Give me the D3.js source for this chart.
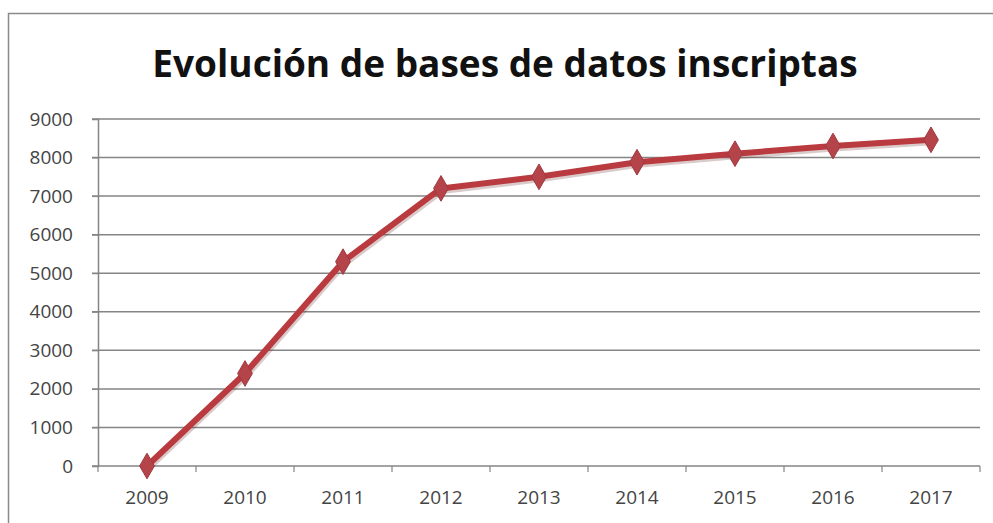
<!DOCTYPE html>
<html><head><meta charset="utf-8">
<script src="https://cdn.jsdelivr.net/npm/d3@7"></script>
<style>body{margin:0;background:#fff}</style>
</head><body>
<svg id="c" width="993" height="523"></svg>
<script>
const years = ["2009","2010","2011","2012","2013","2014","2015","2016","2017"];
const values = [0, 2400, 5300, 7200, 7500, 7880, 8100, 8300, 8460];
const yTicks = [0,1000,2000,3000,4000,5000,6000,7000,8000,9000];
const title = "Evolución de bases de datos inscriptas";

const svg = d3.select("#c");
const m = {left:98, right:980, top:119, bottom:466};
const font = "Open Sans, sans-serif";

// outer frame
svg.append("rect").attr("x",8.5).attr("y",13.5).attr("width",1000).attr("height",600)
  .attr("fill","#fff").attr("stroke","#8a8a8a").attr("stroke-width",1.5);

const x = d3.scaleBand().domain(years).range([m.left, m.right]);
const y = d3.scaleLinear().domain([0,9000]).range([m.bottom, m.top]);

// gridlines
svg.append("g").selectAll("line").data(yTicks).join("line")
  .attr("x1", m.left-6).attr("x2", m.right)
  .attr("y1", d=>y(d)).attr("y2", d=>y(d))
  .attr("stroke","#858585").attr("stroke-width",1.5);

// y axis
const yAxis = svg.append("g").attr("transform",`translate(${m.left},0)`)
  .call(d3.axisLeft(y).tickValues(yTicks).tickFormat(d3.format("d")).tickSize(6).tickPadding(19));
yAxis.select(".domain").attr("stroke","#858585").attr("stroke-width",1.5);
yAxis.selectAll(".tick line").attr("stroke","#858585");
yAxis.selectAll("text").attr("fill","#444").style("font-family",font).style("font-size","19px");

// x axis, ticks at category boundaries
const xAxis = svg.append("g").attr("transform",`translate(0,${m.bottom})`)
  .call(d3.axisBottom(x).tickSize(0).tickPadding(25));
xAxis.select(".domain").remove();
xAxis.selectAll("text").attr("fill","#444").style("font-family",font).style("font-size","19px");
const bounds = years.map(d=>x(d)).concat([m.right]);
svg.append("g").selectAll("line").data(bounds).join("line")
  .attr("x1",d=>d).attr("x2",d=>d).attr("y1",m.bottom).attr("y2",m.bottom+6)
  .attr("stroke","#858585").attr("stroke-width",1.2);

// title
svg.append("text").attr("x",505).attr("y",77).attr("text-anchor","middle")
  .style("font-family",font).style("font-weight","700")
  .style("font-size","37px").attr("fill","#111").text(title);

const data = years.map((d,i)=>({year:d, v:values[i]}));
const cx = d => x(d.year) + x.bandwidth()/2;
const line = d3.line().x(cx).y(d=>y(d.v));

// soft shadow
svg.append("path").datum(data).attr("d",line).attr("fill","none")
  .attr("stroke","#6b2a2a").attr("stroke-opacity",0.25).attr("stroke-width",7)
  .attr("transform","translate(1,2)").attr("stroke-linejoin","round");
svg.append("path").datum(data).attr("d",line).attr("fill","none")
  .attr("stroke","#b93b40").attr("stroke-width",6).attr("stroke-linejoin","round");

const sym = d3.symbol().type(d3.symbolDiamond).size(190);
svg.append("g").selectAll("path").data(data).join("path")
  .attr("d",sym).attr("transform",d=>`translate(${cx(d)},${y(d.v)})`)
  .attr("fill","#b5434a").attr("stroke","#9e3a40").attr("stroke-width",1);
</script>
</body></html>
